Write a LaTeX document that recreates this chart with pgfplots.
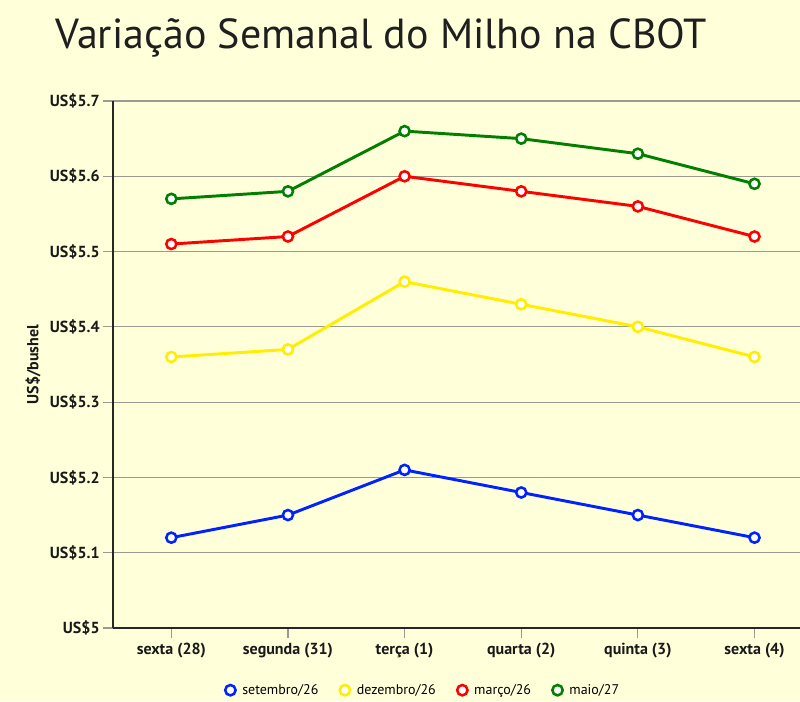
\documentclass[border=0pt]{standalone}
\usepackage{fontspec}
\setmainfont{PT Sans}
\usepackage{pgfplots}
\pgfplotsset{compat=1.18}

\definecolor{bgc}{HTML}{FFFFDA}
\definecolor{sset}{HTML}{0022FF}
\definecolor{sdez}{HTML}{FFEE00}
\definecolor{smar}{HTML}{FF0000}
\definecolor{smai}{HTML}{007F00}
\definecolor{gridc}{HTML}{9A9A90}

\pgfplotsset{
  serie/.style={
    color=#1, line width=2.2pt, mark=*,
    mark size=3.8pt,
    mark options={draw=#1, fill=white, line width=1.9pt, solid}
  }
}

\begin{document}
\begin{tikzpicture}
\fill[bgc] (0,0) rectangle (600pt,525.75pt);
\node[anchor=base west, text=black!88, font=\fontsize{31.5}{36}\selectfont]
  at (38pt,489pt) {Variação Semanal do Milho na CBOT};
\begin{axis}[
    scale only axis,
    width=515.25pt, height=395.25pt,
    at={(84.75pt,54.75pt)}, anchor=south west,
    xmin=-0.5, xmax=5.39,
    ymin=5, ymax=5.7,
    xtick={0,1,2,3,4,5},
    xticklabels={sexta (28), segunda (31), terça (1), quarta (2), quinta (3), sexta (4)},
    ytick={5,5.1,5.2,5.3,5.4,5.5,5.6,5.7},
    yticklabels={US\$5, US\$5.1, US\$5.2, US\$5.3, US\$5.4, US\$5.5, US\$5.6, US\$5.7},
    axis x line*=bottom, axis y line*=left,
    axis line style={black!85, line width=1.5pt, -},
    tick align=outside, major tick length=7.5pt,
    major tick style={draw=gridc, line width=0.9pt},
    ymajorgrids,
    major grid style={draw=gridc, line width=0.9pt},
    yticklabel style={font=\bfseries\fontsize{12}{14}\selectfont, text=black!90, xshift=1pt},
    xticklabel style={font=\bfseries\fontsize{12}{14}\selectfont, text=black!90},
    ylabel={US\$/bushel},
    every axis y label/.style={at={(axis description cs:-0.1164,0.5)}, rotate=90, anchor=center,
      font=\bfseries\fontsize{12}{14}\selectfont, text=black!90},
    legend columns=4,
    legend style={at={(0.452,-0.118)}, anchor=center, draw=none, fill=none,
      font=\fontsize{10.5}{13}\selectfont,
      /tikz/every odd column/.append style={column sep=3pt},
      /tikz/every even column/.append style={column sep=14pt}},
    legend image code/.code={\draw[#1, only marks, mark size=3.9pt] plot coordinates {(0.2cm,0cm)};},
    clip=false,
]
\addplot[serie=sset] coordinates {(0,5.12) (1,5.15) (2,5.21) (3,5.18) (4,5.15) (5,5.12)};
\addlegendentry{setembro/26}
\addplot[serie=sdez] coordinates {(0,5.36) (1,5.37) (2,5.46) (3,5.43) (4,5.40) (5,5.36)};
\addlegendentry{dezembro/26}
\addplot[serie=smar] coordinates {(0,5.51) (1,5.52) (2,5.60) (3,5.58) (4,5.56) (5,5.52)};
\addlegendentry{março/26}
\addplot[serie=smai] coordinates {(0,5.57) (1,5.58) (2,5.66) (3,5.65) (4,5.63) (5,5.59)};
\addlegendentry{maio/27}
\end{axis}
\pgfresetboundingbox
\path (0,0) rectangle (600pt,525.75pt);
\end{tikzpicture}
\end{document}
